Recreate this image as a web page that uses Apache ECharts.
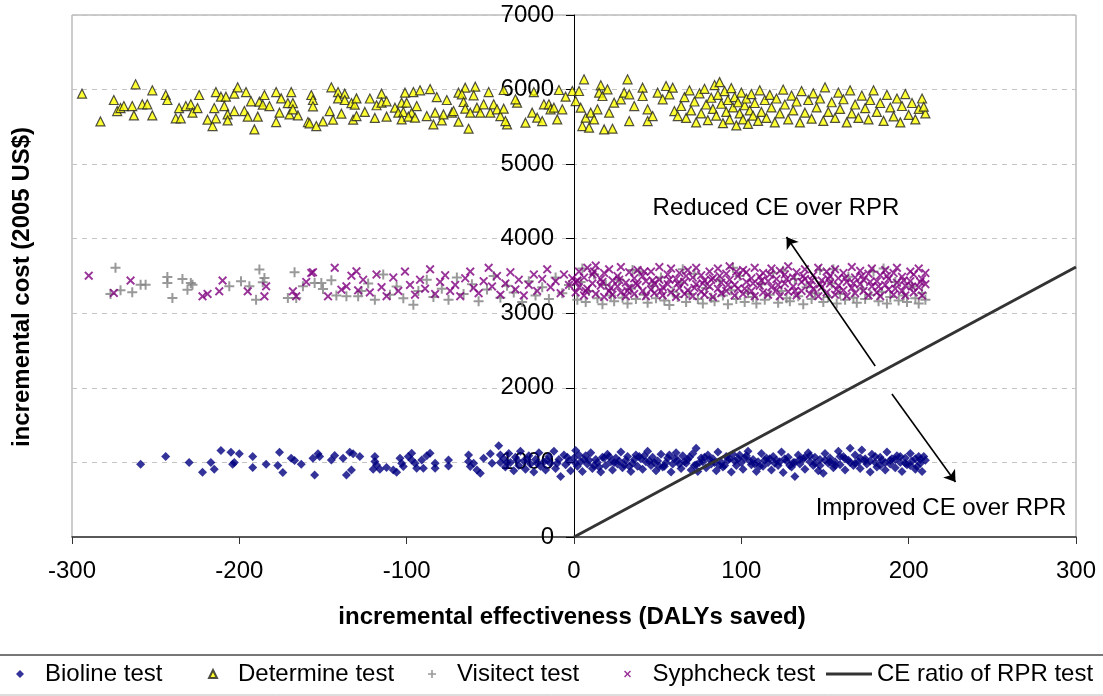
<!DOCTYPE html>
<html>
<head>
<meta charset="utf-8">
<script src="https://cdn.jsdelivr.net/npm/echarts@6/dist/echarts.min.js"></script>
<style>html,body{margin:0;padding:0;background:#fff}#c{width:1103px;height:696px}</style>
</head>
<body>
<div id="c"></div>
<script>
var xTicks = [-300,-200,-100,0,100,200,300];
var yTicks = [0,1000,2000,3000,4000,5000,6000,7000];

var bioline = [
[-259,976],[-244,1078],[-230,998],[-222,869],[-217,998],[-215,909],[-211,1159],[-205,1137],[-203,998],[-204,976],[-200,1115],[-192,1078],[-192,931],[-184,976],[-176,1137],[-177,958],[-174,864],[-169,1057],[-167,1025],[-163,976],[-156,1057],[-153,1115],[-152,1078],[-155,833],[-145,1034],[-143,1092],[-138,1057],[-136,833],[-133,900],[-134,1137],[-132,1115],[-128,1078],[-119,1078],[-119,1011],[-118,967],[-120,909],[-116,909],[-112,931],[-108,900],[-106,869],[-104,1057],[-103,990],[-102,944],[-99,1078],[-97,1124],[-97,1034],[-95,990],[-94,922],[-91,1034],[-90,922],[-88,1088],[-86,1124],[-83,990],[-83,922],[-75,1034],[-75,953],[-63,1101],[-63,1011],[-62,944],[-60,990],[-58,900],[-56,855],[-54,1057],[-50,1115],[-49,990],[-45,1222],[-44,1101],
[-42,1050],[-41,940],[-39,1120],[-38,1000],[-36,890],[-35,1070],[-33,960],[-32,1150],[-30,1020],[-29,910],[-27,1090],[-26,980],[-24,870],[-23,1040],[-21,1130],[-20,950],[-18,1010],[-17,900],[-15,1080],[-14,990],[-12,1150],[-11,920],[-9,1040],[-8,810],[-6,1100],[-5,970],[-3,1020],[-2,890],[0,1060],[1,1159],[2,950],[4,1010],[5,880],[7,1090],[8,980],[10,1130],[11,920],[13,1040],[14,1000],[16,870],[17,1070],[19,960],[20,1110],[22,1010],[23,900],[25,1060],[26,980],[28,1140],[29,930],[31,1030],[32,1080],[34,880],[35,990],[37,1100],[38,950],[40,1050],[41,910],[43,1010],[44,1150],[46,960],[47,1070],[49,890],[50,1020],[52,1110],[53,940],[55,1000],[56,1060],[58,870],[59,980],[61,1130],[62,1030],[64,920],[65,1090],[67,990],[68,1040],[70,900],[71,1120],[73,970],[73,1191],[74,877],[76,1060],[77,1010],[79,930],[80,1100],[82,980],[83,1050],[85,890],[86,1140],[88,1000],[89,940],[91,1080],[92,1030],[94,870],[95,1110],[97,960],[98,1050],[100,1000],[101,910],[103,1090],[104,1150],[106,970],[107,1040],[109,880],[110,1010],[112,1120],[113,950],[115,1060],[116,1000],[118,900],[119,1080],[121,1030],[122,960],[124,1140],[125,864],[127,1020],[128,1070],[130,940],[131,1000],[132,810],[134,1100],[135,980],[137,1050],[138,910],[140,1130],[141,1010],[143,960],[144,1070],[146,890],[147,1040],[149,855],[150,1120],[152,990],[153,1060],[155,930],[156,1010],[158,1150],[159,970],[161,1080],[162,900],[164,1030],[165,1191],[167,960],[168,1100],[170,1010],[171,920],[172,1168],[174,1050],[175,980],[177,870],[178,1110],[180,1000],[181,940],[183,1070],[184,1030],[186,900],[187,1140],[189,980],[190,1050],[192,930],[193,1090],[195,1000],[196,880],[198,1060],[199,970],[201,1120],[202,1020],[204,910],[205,944],[206,1080],[207,990],[209,1078],[210,1030],[208,880],[-44,1000],
[1,990],[6,1040],[12,960],[18,1060],[24,1000],[30,970],[36,1040],[42,1090],[48,1000],[54,950],[60,1050],[66,1010],[72,960],[78,1070],[84,1000],[90,960],[96,1020],[102,1060],[108,980],[114,1030],[120,990],[126,1050],[132,1000],[138,1070],[144,990],[150,1030],[156,960],[162,1050],[168,990],[174,1020],[180,1080],[186,1000],[192,1040],[198,990],[204,1050],[-40,1000],[-34,1030],[-28,1040],[-22,990],[-16,1030],[-10,990],[-4,1070],
[3,1100],[9,1030],[15,940],[21,1080],[27,1020],[33,950],[39,1080],[45,1020],[51,950],[57,1100],[63,980],[69,1070],[75,1000],[81,1040],[87,960],[93,1050],[99,1100],[105,1020],[111,950],[117,1050],[123,1010],[129,960],[135,1040],[141,1090],[147,960],[153,1010],[159,1080],[165,1000],[171,1060],[177,1020],[183,960],[189,1030],[195,1080],[201,960],[207,1040]
];

var determine = [
[-294,5945],[-283,5573],[-262,6070],[-275,5860],[-273,5712],[-271,5752],[-269,5779],[-264,5779],[-263,5654],[-258,5802],[-255,5802],[-252,5990],[-252,5654],[-244,5927],[-243,5860],[-236,5752],[-238,5614],[-235,5614],[-232,5779],[-229,5802],[-228,5690],[-225,5752],[-224,5927],[-219,5596],[-216,5511],[-214,5614],[-215,5752],[-214,5967],[-211,5905],[-208,5905],[-209,5779],[-207,5667],[-207,5587],[-203,5712],[-203,5945],[-201,6030],[-196,5967],[-197,5712],[-195,5637],[-191,5466],[-189,5637],[-193,5842],[-188,5838],[-185,5927],[-186,5797],[-182,5779],[-178,5967],[-175,5882],[-176,5690],[-178,5564],[-169,5967],[-171,5819],[-168,5819],[-170,5667],[-165,5654],[-168,5735],[-157,5927],[-156,5860],[-156,5775],[-159,5564],[-158,5547],[-154,5511],[-150,5573],[-146,5712],[-144,5596],[-145,6030],[-141,5967],[-137,5945],[-141,5882],[-137,5860],[-139,5677],[-133,5819],[-131,5797],[-130,5882],[-132,5596],[-130,5645],
[-125,5700],[-122,5880],[-119,5620],[-118,5790],
[-115,5945],[-115,5824],[-112,5842],[-112,5637],[-107,5757],[-105,5690],[-103,5824],[-101,5958],[-102,5699],[-103,5600],[-100,5824],[-97,5690],[-99,5637],[-96,5967],[-92,5990],[-95,5623],[-94,5779],[-88,5645],[-86,6007],[-84,5533],[-83,5690],[-82,5900],[-79,5587],[-76,5860],[-78,5667],[-73,5690],[-72,5712],[-69,5569],[-69,5958],[-65,6025],[-67,5936],[-66,5833],[-65,5744],[-63,5475],[-62,5690],[-59,6039],[-60,5923],[-58,5757],[-56,5690],[-54,5802],[-50,5690],[-51,5967],[-48,5802],[-46,5735],[-44,5645],[-42,5994],[-42,5744],[-40,5533],[-41,5578],[-34,5824],[-35,5869],[-29,5556],[-25,5690],[-24,5967],[-22,5623],[-19,5578],[-18,5802],[-15,5802],[-14,5735],[-12,5757],[-10,5600],[-9,5994],[-7,5735],[-5,5905],[-1,5981],[1,5846],[3,5981],[6,6137],[4,5757],[5,5511],[7,5623],[9,5489],[10,5690],[12,5600],[16,6057],[15,5958],[14,5735],[17,5914],[18,5466],[20,6003],[21,5690],[23,5475],[24,5824],[28,5869],[32,6137],[30,5958],[33,5936],[36,5779],[33,5578],[41,6025],[41,5914],[44,5735],[44,5578],[47,5645],[50,5958],[53,5869],[55,6048],[57,5936],[59,6025],[60,5712],[62,5645],
[64,5780],[66,5900],[67,5620],[69,5990],[70,5720],[72,5840],[73,5560],[75,5950],[76,5680],[78,6010],[79,5800],[80,5590],[82,5890],[83,5740],[84,6060],[85,5650],[86,5930],[87,6100],[88,5810],[89,5550],[90,5980],[91,5700],[92,5860],[93,5600],[94,6020],[95,5760],[96,5900],[97,5520],[98,5830],[99,5680],[100,5960],[101,5600],[102,5790],[103,5880],[104,5540],[105,5720],[106,5940],[107,5650],[108,5820],[110,5580],[111,5990],[112,5700],[114,5860],[115,5620],[117,5930],[118,5760],[120,5560],[121,5880],[123,5680],[125,6000],[126,5800],[128,5600],[130,5920],[131,5720],[133,5840],[135,5560],[136,5980],[138,5690],[140,5860],[142,5610],[143,5950],[145,5760],[147,5880],[149,5580],[150,6030],[152,5700],[154,5830],[156,5620],[158,5960],[159,5740],[161,5870],[163,5560],[165,5990],[166,5680],[168,5800],[170,5620],[172,5920],[174,5750],[176,5600],[177,5860],[179,5990],[181,5700],[183,5820],[185,5580],[187,5930],[189,5760],[191,5640],[193,5880],[195,5560],[196,5780],[198,5940],[200,5660],[202,5820],[204,5600],[206,5740],[208,5880],[210,5680],[209,5770]
];

var visitect = [
[-274,3609],[-277,3260],[-271,3308],[-264,3281],[-259,3384],[-256,3384],[-243,3488],[-243,3407],[-240,3206],[-234,3461],[-231,3317],[-229,3407],[-228,3384],[-206,3361],[-199,3429],[-194,3361],[-190,3183],[-188,3586],[-186,3415],[-185,3474],[-171,3206],[-167,3550],[-166,3206],[-162,3361],[-155,3407],[-151,3407],[-150,3326],[-145,3442],[-142,3237],[-136,3227],[-129,3227],
[-127,3300],[-123,3400],[-119,3180],[-114,3520],[-110,3250],[-106,3360],[-102,3200],[-96,3115],[-93,3300],[-88,3450],[-84,3220],[-79,3330],[-75,3180],[-70,3480],[-66,3260],[-61,3390],[-57,3160],[-52,3320],[-48,3500],[-44,3210],[-40,3370],[-36,3280],[-31,3150],[-27,3430],[-23,3240],[-19,3350],[-15,3190],[-11,3480],[-7,3270],[-3,3380],
[2,3180],[4,3420],[7,3150],[9,3300],[12,3520],[14,3200],[17,3120],[19,3380],[22,3240],[24,3160],[27,3450],[29,3210],[32,3130],[34,3330],[37,3190],[39,3560],[42,3250],[44,3140],[47,3370],[49,3200],[52,3480],[54,3170],[57,3110],[59,3290],[62,3220],[64,3410],[67,3150],[69,3260],[72,3530],[74,3190],[77,3130],[79,3340],[82,3210],[84,3160],[87,3440],[89,3240],[92,3120],[94,3310],[97,3190],[99,3500],[102,3150],[104,3270],[107,3220],[109,3130],[112,3390],[114,3180],[117,3250],[119,3540],[122,3140],[124,3300],[127,3200],[129,3160],[132,3460],[134,3230],[137,3120],[139,3350],[142,3190],[144,3270],[147,3580],[149,3150],[152,3220],[154,3400],[157,3130],[159,3260],[162,3180],[164,3490],[167,3210],[169,3140],[172,3330],[174,3190],[177,3250],[179,3560],[182,3160],[184,3290],[187,3130],[189,3220],[192,3420],[194,3170],[197,3240],[199,3150],[202,3360],[204,3200],[206,3130],[208,3270],[210,3180],[5,3600],[35,3580],[65,3590],[95,3610],[125,3570],[155,3590],[185,3600]
];

var syphcheck = [
[-290,3505],[-275,3273],[-265,3438],[-222,3227],[-219,3260],[-212,3294],[-210,3438],[-195,3294],[-185,3227],[-184,3361],[-168,3294],[-166,3227],[-160,3420],[-157,3541],[-156,3550],[-147,3227],[-143,3609],[-139,3317],[-136,3361],[-133,3505],[-130,3563],[-129,3308],
[-126,3450],[-122,3280],[-118,3520],[-115,3350],[-112,3230],[-108,3480],[-105,3300],[-101,3560],[-98,3380],[-95,3250],[-92,3450],[-89,3330],[-86,3590],[-83,3260],[-80,3420],[-77,3510],[-74,3300],[-71,3380],[-68,3230],[-65,3470],[-62,3560],[-60,3340],[-57,3270],[-54,3430],[-51,3610],[-49,3360],[-46,3500],[-44,3250],[-41,3400],[-38,3550],[-35,3320],[-33,3450],[-30,3240],[-27,3380],[-24,3520],[-22,3300],[-19,3460],[-16,3590],[-14,3350],[-11,3430],[-8,3270],[-6,3520],[-3,3380],[-1,3470],
[1,3420],[1,3280],[3,3560],[3,3350],[6,3240],[6,3480],[8,3610],[8,3330],[11,3400],[11,3520],[13,3260],[13,3640],[16,3370],[16,3460],[18,3220],[18,3540],[21,3300],[21,3590],[23,3440],[23,3250],[26,3500],[26,3360],[28,3280],[28,3620],[31,3410],[31,3230],[33,3550],[33,3340],[36,3470],[36,3260],[38,3580],[38,3380],[41,3300],[41,3500],[43,3230],[43,3430],[46,3560],[46,3320],[48,3400],[48,3270],[51,3620],[51,3450],[53,3350],[53,3240],[56,3520],[56,3390],[58,3280],[58,3600],[61,3460],[61,3220],[63,3340],[63,3540],[66,3420],[66,3260],[68,3580],[68,3310],[71,3480],[71,3230],[73,3390],[73,3610],[76,3290],[76,3510],[78,3440],[78,3250],[81,3560],[81,3360],[83,3470],[83,3220],[86,3330],[86,3600],[88,3410],[88,3270],[91,3530],[91,3300],[93,3450],[93,3630],[96,3240],[96,3380],[98,3500],[98,3330],[101,3580],[101,3260],[103,3420],[103,3550],[106,3300],[106,3470],[108,3230],[108,3610],[111,3370],[111,3490],[113,3280],[113,3540],[116,3430],[116,3250],[118,3600],[118,3350],[121,3460],[121,3310],[123,3230],[123,3570],[126,3400],[126,3520],[128,3290],[128,3630],[131,3360],[131,3480],[133,3240],[133,3550],[136,3420],[136,3300],[138,3590],[138,3460],[141,3260],[141,3380],[143,3510],[143,3330],[146,3610],[146,3230],[148,3440],[148,3350],[151,3560],[151,3280],[153,3400],[153,3500],[156,3250],[156,3590],[158,3370],[158,3470],[161,3310],[161,3540],[163,3230],[163,3420],[166,3620],[166,3340],[168,3480],[168,3270],[171,3390],[171,3570],[173,3300],[173,3450],[176,3240],[176,3530],[178,3600],[178,3360],[181,3430],[181,3280],[183,3510],[183,3230],[186,3380],[186,3580],[188,3320],[188,3460],[191,3250],[191,3540],[193,3410],[193,3610],[196,3300],[196,3490],[198,3240],[198,3370],[201,3560],[201,3430],[203,3280],[203,3520],[206,3350],[206,3600],[208,3460],[208,3240],[210,3390],[210,3540],
[2,3440],[7,3300],[12,3560],[17,3420],[22,3340],[27,3450],[32,3300],[37,3400],[42,3560],[47,3440],[52,3300],[57,3450],[62,3400],[67,3500],[72,3340],[77,3400],[82,3450],[87,3500],[92,3380],[97,3560],[102,3330],[107,3400],[112,3440],[117,3520],[122,3380],[127,3460],[132,3300],[137,3500],[142,3440],[147,3390],[152,3460],[157,3320],[162,3470],[167,3400],[172,3500],[177,3420],[182,3360],[187,3500],[192,3330],[197,3440],[202,3360],[207,3420]
];

var ceLine = [[0,0],[300,3620]];
var arrowUp = [[180,2293],[127,4023]];
var arrowDown = [[190,1918],[228,737]];
var seriesNames = ['Bioline test','Determine test','Visitect test','Syphcheck test','CE ratio of RPR test'];

var FONT = '"Liberation Sans", Arial, sans-serif';
var DIAMOND = 'path://M5,0L10,5L5,10L0,5Z';
var TRIANGLE = 'path://M5,0L10,10L0,10Z';
var PLUS = 'path://M4,0H6V4H10V6H6V10H4V6H0V4H4Z';
var CROSS = 'path://M0,1.5L1.5,0L5,3.5L8.5,0L10,1.5L6.5,5L10,8.5L8.5,10L5,6.5L1.5,10L0,8.5L3.5,5Z';
var LINEICON = 'path://M0,0H46V3H0Z';

function mkLegend(name, icon, left, w, h) {
  return {
    left: left, top: 662, itemWidth: w, itemHeight: h, itemGap: 0, padding: 0,
    textStyle: {fontSize: 24, color: '#000', fontFamily: FONT, padding: [0,0,0,0]},
    data: [{name: name, icon: icon}]
  };
}

var chart = echarts.init(document.getElementById('c'));
chart.setOption({
  animation: false,
  textStyle: {fontFamily: FONT},
  grid: {left: 72, right: 27, top: 15, bottom: 159, show: true, borderColor: '#999', borderWidth: 1, containLabel: false, outerBoundsMode: 'none'},
  xAxis: {
    type: 'value', min: xTicks[0], max: xTicks[xTicks.length-1], interval: 100,
    axisLine: {show: true, onZero: false, lineStyle: {color: '#333', width: 1.5}},
    axisTick: {show: true, length: 7, lineStyle: {color: '#333'}},
    axisLabel: {fontSize: 24, color: '#000', margin: 22, fontFamily: FONT},
    splitLine: {show: false}
  },
  yAxis: {
    type: 'value', min: yTicks[0], max: yTicks[yTicks.length-1], interval: 1000,
    position: 'left', offset: -502,
    axisLine: {show: true, onZero: false, lineStyle: {color: '#000', width: 1}},
    axisTick: {show: true, length: 8, lineStyle: {color: '#000'}},
    axisLabel: {fontSize: 24, color: '#000', margin: 20, fontFamily: FONT, formatter: function (v) { return String(v); }},
    splitLine: {show: true, lineStyle: {color: '#c4c4c4', type: [5,5], width: 1}}
  },
  legend: [
    mkLegend(seriesNames[0], DIAMOND, 16, 40, 8),
    mkLegend(seriesNames[1], TRIANGLE, 208, 40, 8),
    mkLegend(seriesNames[2], PLUS, 428, 40, 8),
    mkLegend(seriesNames[3], CROSS, 624, 40, 7),
    mkLegend(seriesNames[4], LINEICON, 826, 46, 8)
  ],
  series: [
    {name: seriesNames[0], type: 'scatter', data: bioline, symbol: 'diamond', symbolSize: 9,
     itemStyle: {color: '#000080'}},
    {name: seriesNames[1], type: 'scatter', data: determine, symbol: 'triangle', symbolSize: 9,
     itemStyle: {color: '#ffff00', borderColor: '#222', borderWidth: 1.2}},
    {name: seriesNames[2], type: 'scatter', data: visitect, symbol: PLUS, symbolSize: 10,
     itemStyle: {color: '#808080'}},
    {name: seriesNames[3], type: 'scatter', data: syphcheck, symbol: CROSS, symbolSize: 9,
     itemStyle: {color: '#800080'}},
    {name: seriesNames[4], type: 'line', data: ceLine, symbol: 'none', z: 5,
     itemStyle: {color: '#333'},
     lineStyle: {color: '#333', width: 3},
     markLine: {
       silent: true, symbol: ['none','arrow'], symbolSize: 11,
       label: {show: false},
       lineStyle: {color: '#000', width: 1.6, type: 'solid'},
       data: [
         [{coord: arrowUp[0]}, {coord: arrowUp[1]}],
         [{coord: arrowDown[0]}, {coord: arrowDown[1]}]
       ]
     }}
  ],
  graphic: [
    {type: 'text', x: 776, y: 208, style: {text: 'Reduced CE over RPR', font: '24px ' + FONT, fill: '#000', textAlign: 'center', textVerticalAlign: 'middle', align: 'center', verticalAlign: 'middle'}},
    {type: 'text', x: 941, y: 508, style: {text: 'Improved CE over RPR', font: '24px ' + FONT, fill: '#000', textAlign: 'center', textVerticalAlign: 'middle', align: 'center', verticalAlign: 'middle'}},
    {type: 'text', x: 572, y: 617, style: {text: 'incremental effectiveness (DALYs saved)', font: 'bold 24px ' + FONT, fill: '#000', textAlign: 'center', textVerticalAlign: 'middle', align: 'center', verticalAlign: 'middle'}},
    {type: 'text', x: 22, y: 287, rotation: Math.PI/2, style: {text: 'incremental cost (2005 US$)', font: 'bold 24px ' + FONT, fill: '#000', textAlign: 'center', textVerticalAlign: 'middle', align: 'center', verticalAlign: 'middle'}},
    {type: 'line', shape: {x1: 0, y1: 655, x2: 1103, y2: 655}, style: {stroke: '#777', lineWidth: 2}},
    {type: 'line', shape: {x1: 0, y1: 695, x2: 1103, y2: 695}, style: {stroke: '#bbb', lineWidth: 1}}
  ]
});
</script>
</body>
</html>
